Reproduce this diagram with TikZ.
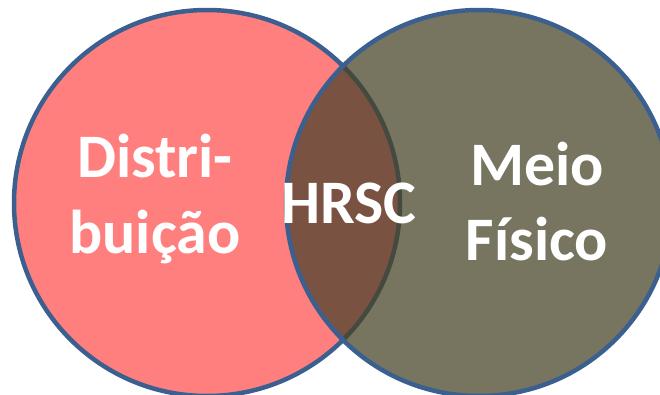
\documentclass[tikz,border=0pt]{standalone}
\usepackage{fontspec}
\setmainfont{Carlito}
\definecolor{rosa}{HTML}{FF7F7F}
\definecolor{oliva}{HTML}{777560}
\definecolor{marrom}{HTML}{7A5241}
\definecolor{borda}{HTML}{3B6090}
\definecolor{sombra}{HTML}{444A3F}
\begin{document}
\begin{tikzpicture}[x=0.025cm,y=-0.025cm,line join=round,line cap=round]
	\tikzset{txt/.style={text=white,anchor=base,inner sep=0pt,font=\bfseries\fontsize{44}{54}\selectfont},
		conj/.style={line width=3.2pt}}
	\useasboundingbox (0,0) rectangle (660,395);
	\clip (0,0) rectangle (660,395);
	\coordinate (cA) at (207,203);
	\coordinate (cB) at (479,203);
	% conjuntos
	\fill[rosa] (cA) circle (193);
	\fill[oliva] (cB) circle (193);
	\begin{scope}
		\clip (cB) circle (193);
		\fill[marrom] (cA) circle (193);
		\draw[conj,sombra] (cA) circle (193);
	\end{scope}
	\begin{scope}
		\clip (cB) circle (193) (0,0) rectangle (660,395);
		\draw[conj,borda] (cA) circle (193);
	\end{scope}
	\draw[conj,borda] (cB) circle (193);
	% rotulos
	\node[txt] (dist1) at (155,177) {Distri-};
	\node[txt] (dist2) at (155,253) {buição};
	\node[txt] (hrsc) at (349,223) {HRSC};
	\node[txt] (meio1) at (537,185) {Meio};
	\node[txt] (meio2) at (537,260) {Físico};
\end{tikzpicture}
\end{document}
